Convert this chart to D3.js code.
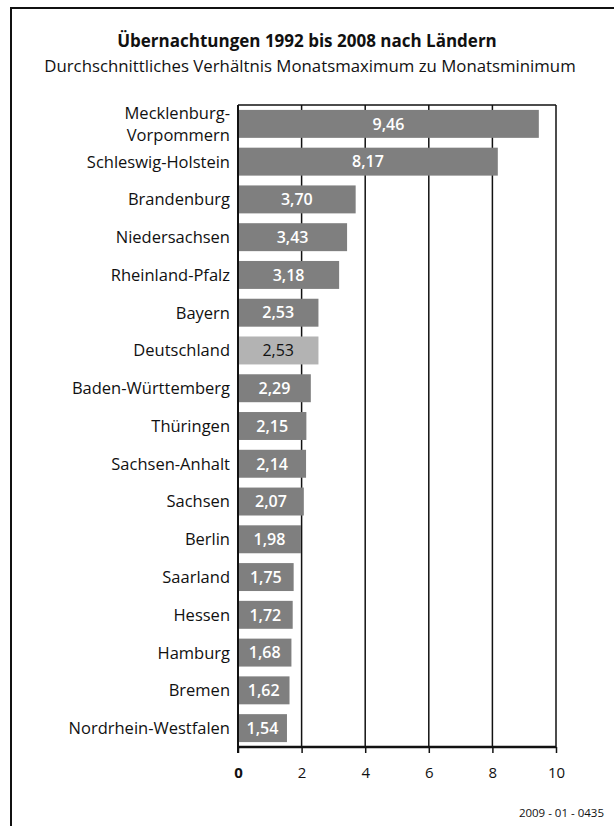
<!DOCTYPE html>
<html>
<head>
<meta charset="utf-8">
<script src="https://cdn.jsdelivr.net/npm/d3@7"></script>
<style>
  html, body { margin: 0; padding: 0; background: #fff; }
  svg { display: block; font-family: "Open Sans", "DejaVu Sans", sans-serif; }
</style>
</head>
<body>
<svg id="chart" width="614" height="826"></svg>
<script>
// Übernachtungen: average ratio of monthly max to monthly min, 1992–2008
const laender = [
  "Mecklenburg-\nVorpommern", "Schleswig-Holstein", "Brandenburg", "Niedersachsen",
  "Rheinland-Pfalz", "Bayern", "Deutschland", "Baden-Württemberg", "Thüringen",
  "Sachsen-Anhalt", "Sachsen", "Berlin", "Saarland", "Hessen", "Hamburg",
  "Bremen", "Nordrhein-Westfalen"
];
const verhaeltnis = [9.46, 8.17, 3.70, 3.43, 3.18, 2.53, 2.53, 2.29, 2.15, 2.14, 2.07, 1.98, 1.75, 1.72, 1.68, 1.62, 1.54];
const xTicks = [0, 2, 4, 6, 8, 10];
const highlight = "Deutschland";

const svg = d3.select("#chart");
const W = 614, H = 826;
const mLeft = 238, mRight = 556, mTop = 105, mBottom = 747;

// outer frame (open to the right and bottom)
svg.append("rect")
  .attr("x", 11).attr("y", 8).attr("width", W + 20).attr("height", H + 20)
  .attr("fill", "none").attr("stroke", "#111").attr("stroke-width", 2);

// titles
svg.append("text").attr("x", 307).attr("y", 47).attr("text-anchor", "middle")
  .attr("font-size", 17).attr("font-weight", "bold").attr("fill", "#111")
  .text("Übernachtungen 1992 bis 2008 nach Ländern");
svg.append("text").attr("x", 310).attr("y", 72).attr("text-anchor", "middle")
  .attr("font-size", 16.8).attr("fill", "#111")
  .text("Durchschnittliches Verhältnis Monatsmaximum zu Monatsminimum");

const x = d3.scaleLinear().domain([0, 10]).range([mLeft, mRight]);
const y = d3.scaleBand().domain(laender).range([mTop, mBottom]).paddingInner(0.26).paddingOuter(0.13);

// vertical grid lines
svg.append("g").selectAll("line").data(xTicks.slice(1)).join("line")
  .attr("x1", d => x(d)).attr("x2", d => x(d))
  .attr("y1", mTop).attr("y2", mBottom)
  .attr("stroke", "#111").attr("stroke-width", 1.5);

// top border of the plot area
svg.append("line").attr("x1", mLeft).attr("x2", mRight).attr("y1", mTop).attr("y2", mTop)
  .attr("stroke", "#111").attr("stroke-width", 1.5);

// bars
svg.append("g").selectAll("rect").data(laender).join("rect")
  .attr("x", x(0))
  .attr("y", d => y(d))
  .attr("width", (d, i) => x(verhaeltnis[i]) - x(0))
  .attr("height", y.bandwidth())
  .attr("fill", d => d === highlight ? "#b3b3b3" : "#7f7f7f");

// value labels
svg.append("g").selectAll("text").data(laender).join("text")
  .attr("x", (d, i) => (x(0) + x(verhaeltnis[i])) / 2)
  .attr("y", d => y(d) + y.bandwidth() / 2)
  .attr("dy", "0.36em")
  .attr("text-anchor", "middle")
  .attr("font-size", 16)
  .attr("font-weight", d => d === highlight ? "normal" : "600")
  .attr("fill", d => d === highlight ? "#111" : "#fff")
  .text((d, i) => d3.format(".2f")(verhaeltnis[i]).replace(".", ","));

// category labels (one text element per line)
const catG = svg.append("g")
  .attr("font-size", 16.5)
  .attr("fill", "#111")
  .attr("text-anchor", "end");
laender.forEach(d => {
  const lines = d.split("\n");
  const cy = y(d) + y.bandwidth() / 2;
  const lh = 22.6;
  lines.forEach((ln, k) => {
    catG.append("text")
      .attr("x", mLeft - 8)
      .attr("y", cy + (k - (lines.length - 1) / 2) * lh)
      .attr("dy", "0.36em")
      .text(ln);
  });
});

// bottom axis
const axis = svg.append("g").attr("transform", `translate(0,${mBottom})`)
  .call(d3.axisBottom(x).tickValues(xTicks).tickSize(6).tickPadding(14).tickFormat(d3.format("d")));
axis.select(".domain").attr("stroke", "#111").attr("stroke-width", 2.5).attr("d", `M${mLeft},0H${mRight}`);
axis.selectAll(".tick line").attr("stroke", "#111").attr("stroke-width", 1.5);
axis.selectAll(".tick text").attr("font-size", 15).attr("fill", "#111")
  .attr("font-family", "\"Open Sans\", \"DejaVu Sans\", sans-serif")
  .attr("font-weight", d => d === 0 ? "bold" : "normal");

// y axis line
svg.append("line").attr("x1", mLeft).attr("x2", mLeft).attr("y1", mTop).attr("y2", mBottom + 6)
  .attr("stroke", "#111").attr("stroke-width", 2);

// source number
svg.append("text").attr("x", 604).attr("y", 817).attr("text-anchor", "end")
  .attr("font-size", 11.5).attr("fill", "#111").text("2009 - 01 - 0435");
</script>
</body>
</html>
